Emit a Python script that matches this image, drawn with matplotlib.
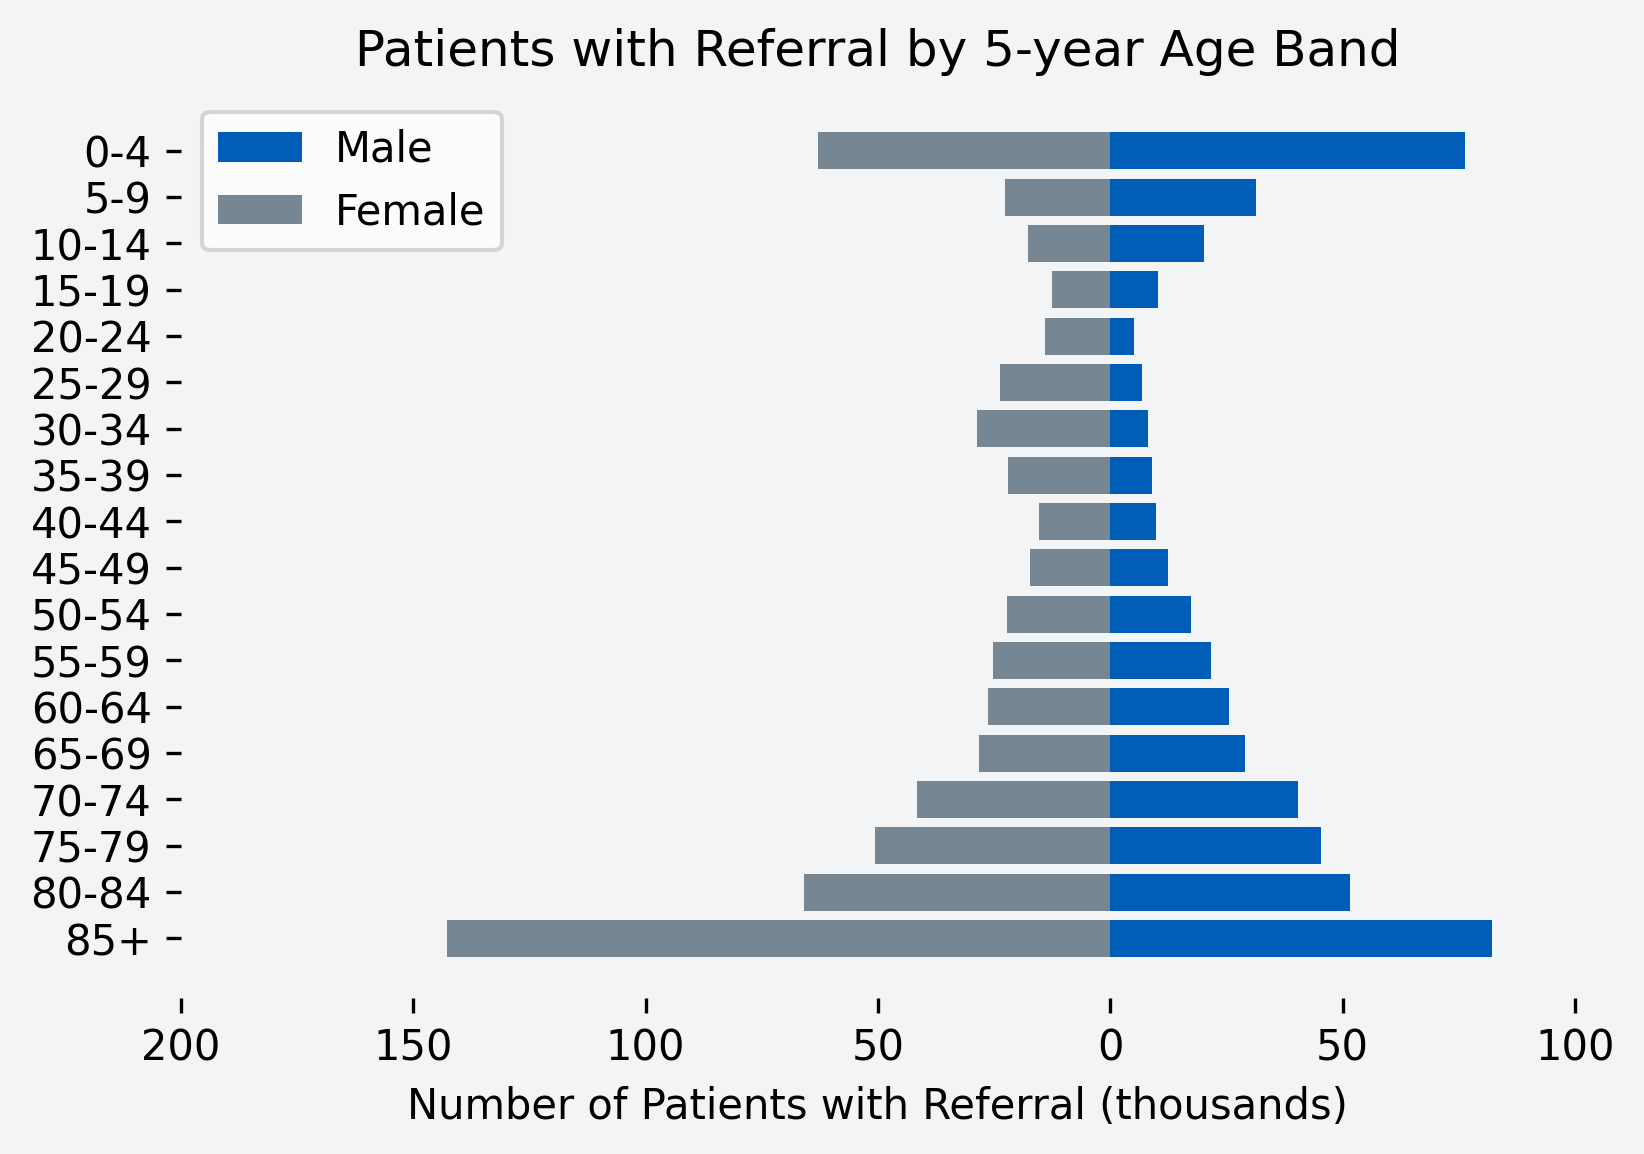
import matplotlib
matplotlib.use("Agg")
import matplotlib.pyplot as plt
import numpy as np

age_bands = ["0-4", "5-9", "10-14", "15-19", "20-24", "25-29", "30-34", "35-39", "40-44",
             "45-49", "50-54", "55-59", "60-64", "65-69", "70-74", "75-79", "80-84", "85+"]
male = [76.3, 31.4, 20.1, 10.2, 5.2, 6.8, 8.1, 9.0, 9.9, 12.4, 17.4, 21.7, 25.5, 28.9, 40.4, 45.4, 51.7, 82.2]
female = [62.8, 22.6, 17.6, 12.6, 14.0, 23.7, 28.7, 22.1, 15.3, 17.2, 22.3, 25.3, 26.2, 28.2, 41.5, 50.6, 65.9, 142.7]
xticks = [-200, -150, -100, -50, 0, 50, 100]

BG = "#f3f4f6"
fig, ax = plt.subplots(figsize=(5.48, 3.847), dpi=300)
fig.patch.set_facecolor(BG); ax.set_facecolor(BG)
y = np.arange(len(age_bands))
ax.barh(y, male, height=0.8, color="#005eb8", label="Male")
ax.barh(y, -np.asarray(female), height=0.8, color="#768692", label="Female")
ax.set_yticks(y); ax.set_yticklabels(age_bands); ax.invert_yaxis()
ax.set_xlim(-200, 100); ax.set_xticks(xticks); ax.set_xticklabels([str(abs(t)) for t in xticks])
for s in ax.spines.values(): s.set_visible(False)
ax.set_xlabel("Number of Patients with Referral (thousands)")
ax.set_title("Patients with Referral by 5-year Age Band")
ax.legend(loc="upper left")
fig.subplots_adjust(left=0.11, right=0.958, top=0.921, bottom=0.135)
fig.savefig("out.png", dpi=300, facecolor=BG)
